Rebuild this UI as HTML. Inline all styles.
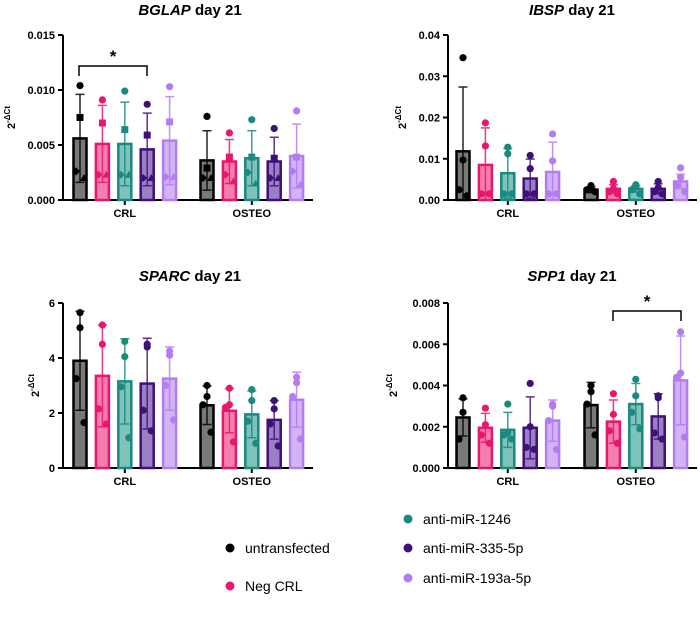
<!DOCTYPE html>
<html><head><meta charset="utf-8"><style>
body{margin:0;background:#fff;width:700px;height:612px;overflow:hidden}
svg{font-family:"Liberation Sans",Arial,sans-serif}
</style></head><body>
<svg id="s" width="700" height="612" viewBox="0 0 700 612"></svg>
<script>
const groupNames=["untransfected","Neg CRL","anti-miR-1246","anti-miR-335-5p","anti-miR-193a-5p"];
const categories=["CRL","OSTEO"];
const lineColors=["#000000","#e8166f","#1a8a80","#3f0f7a","#b57cf2"];
const fillColors=["#787878","#f47fae","#7ec2ba","#9a80c2","#d2b3f6"];
const bglapMeans=[[.0056,.0051,.0051,.0046,.0054],[.0036,.0035,.0038,.0035,.0040]];
const bglapSD=[[.0040,.0035,.0038,.0033,.0040],[.0027,.0020,.0025,.0022,.0029]];
const bglapPts=[[[.0104,.0075,.0026,.0020],[.0091,.0070,.0023,.0023],[.0099,.0064,.0023,.0023],[.0087,.0059,.0020,.0020],[.0103,.0071,.0021,.0021]],
[[.0076,.0029,.0020,.0020],[.0061,.0039,.0023,.0017],[.0073,.0039,.0025,.0015],[.0065,.0038,.0020,.0020],[.0081,.0039,.0026,.0014]]];
const ibspMeans=[[.0118,.0085,.0065,.0052,.0068],[.0025,.0027,.0027,.0027,.0045]];
const ibspSD=[[.0156,.0090,.0060,.0047,.0072],[.0007,.0010,.0008,.0012,.0017]];
const ibspPts=[[[.0345,.0097,.0025,.0010],[.0187,.0131,.0015,.0015],[.0128,.0112,.0015,.0015],[.0108,.0076,.0015,.0015],[.0160,.0095,.0015,.0015]],
[[.0035,.0030,.0025,.0020],[.0045,.0028,.0020,.0015],[.0037,.0032,.0025,.0015],[.0045,.0030,.0020,.0015],[.0078,.0055,.0035,.0020]]];
const sparcMeans=[[3.9,3.35,3.15,3.07,3.25],[2.28,2.08,1.95,1.75,2.48]];
const sparcSD=[[1.8,1.85,1.55,1.65,1.15],[0.7,0.8,0.85,0.7,1.0]];
const sparcPts=[[[5.65,5.1,3.25,1.65],[5.2,4.5,2.15,1.6],[4.6,4.05,2.95,1.1],[4.4,4.5,2.1,1.35],[4.25,4.1,3.0,1.75]],
[[3.0,2.6,2.3,1.3],[2.9,2.3,2.2,.95],[2.85,2.45,1.7,.9],[2.45,2.15,1.6,.8],[3.3,3.1,2.6,1.05]]];
const spp1Means=[[.00245,.00195,.00185,.00195,.0023],[.00305,.00225,.0031,.0025,.00425]];
const spp1SD=[[.0009,.0007,.00085,.0015,.001],[.0011,.00105,.001,.0011,.00215]];
const spp1Pts=[[[.0034,.0027,.0014],[.0029,.0021,.0016,.0012],[.0031,.0017,.0016,.0014],[.0041,.0020,.0010,.0009],[.0030,.0031,.0023,.0009]],
[[.0040,.0037,.0031,.0016],[.0036,.0026,.0018,.0012],[.0043,.0035,.0027,.0019],[.0035,.0034,.0017,.0014],[.0066,.0046,.0044,.0015]]];
const bglapTicks=["0.000","0.005","0.010","0.015"];
const ibspTicks=["0.00","0.01","0.02","0.03","0.04"];
const sparcTicks=["0","2","4","6"];
const spp1Ticks=["0.000","0.002","0.004","0.006","0.008"];

const S=document.getElementById('s');
const NS="http://www.w3.org/2000/svg";
function mk(tag,at,parent){const e=document.createElementNS(NS,tag);for(const k in at)e.setAttribute(k,at[k]);(parent||S).appendChild(e);return e;}
function txt(x,y,str,at,parent){const t=mk('text',Object.assign({x:x,y:y},at),parent);t.textContent=str;return t;}
const shapes=['circle','square','diamond','triangle'];
const jit=[0,0,-4,4];

function panel(o){
  const g=mk('g',{});
  
  
  const ymax=parseFloat(o.ticks[o.ticks.length-1]);
  const ys=v=>o.y0-(v/ymax)*(o.y0-o.ytop);
  // title
  const t=mk('text',{x:o.tx,y:o.ty,'text-anchor':'middle','font-size':15,'font-weight':'bold'},g);
  
  
  const ts=mk('tspan',{'font-style':'italic'},t);ts.textContent=o.name;
  const ts2=mk('tspan',{},t);ts2.textContent=' day 21';
  // y label
  const yl=mk('text',{transform:`translate(${o.ylx},${(o.y0+o.ytop)/2}) rotate(-90)`,'text-anchor':'middle','font-size':11,'font-weight':'bold'},g);
  
  
  const a=mk('tspan',{},yl);a.textContent='2';
  const b=mk('tspan',{dy:-5,'font-size':8},yl);b.textContent='-ΔCt';
  // axes
  const ya=mk('line',{x1:o.ax,x2:o.ax,y1:o.ytop,y2:o.y0,stroke:'#000','stroke-width':2},g);
  
  
  o.ticks.forEach(tk=>{const y=ys(parseFloat(tk));
    mk('line',{x1:o.ax-5,x2:o.ax,y1:y,y2:y,stroke:'#000','stroke-width':2},g);
    const tl=txt(o.ax-8,y+4,tk,{'text-anchor':'end','font-size':11,'font-weight':'bold'},g);
    
    
  });
  const xa=mk('line',{x1:o.ax,x2:o.xend,y1:o.y0,y2:o.y0,stroke:'#000','stroke-width':2},g);
  
  
  const bw=13,sp=22.4;
  categories.forEach((c,ci)=>{
    const start=o.cx[ci];
    const mid=start+2*sp;
    mk('line',{x1:mid,x2:mid,y1:o.y0,y2:o.y0+5,stroke:'#000','stroke-width':2},g);
    const cl=txt(mid,o.y0+17,c,{'text-anchor':'middle','font-size':11,'font-weight':'bold'},g);
    
    
    for(let k=0;k<5;k++){
      const x=start+k*sp,m=o.means[ci][k],sd=o.sd[ci][k];
      const r=mk('rect',{x:x-bw/2,y:ys(m),width:bw,height:o.y0-ys(m),fill:fillColors[k],stroke:lineColors[k],'stroke-width':2.5},g);
      
      
      const e=mk('path',{d:`M${x},${ys(m+sd)}V${ys(Math.max(0,m-sd))}M${x-4.5},${ys(m+sd)}h9M${x-4.5},${ys(Math.max(0,m-sd))}h9`,stroke:lineColors[k],'stroke-width':1.5,fill:'none',opacity:0.85},g);
      
      
      o.pts[ci][k].forEach((v,pi)=>{
        const px=x+jit[pi],py=ys(v);let p;
        const sh=o.shapes?shapes[pi]:'circle';
        if(sh==='circle')p=mk('circle',{cx:px,cy:py,r:3.6,fill:lineColors[k]},g);
        else if(sh==='square')p=mk('rect',{x:px-3.5,y:py-3.5,width:7,height:7,fill:lineColors[k]},g);
        else if(sh==='diamond')p=mk('path',{d:`M${px},${py-4}L${px+4},${py}L${px},${py+4}L${px-4},${py}Z`,fill:lineColors[k]},g);
        else p=mk('path',{d:`M${px},${py-4}L${px+4},${py+3}L${px-4},${py+3}Z`,fill:lineColors[k]},g);
        
        
      });
    }
  });
  if(o.sig){const s=o.sig;
    const br=mk('path',{d:`M${s.x1},${s.y+10}V${s.y}H${s.x2}V${s.y+10}`,stroke:'#000','stroke-width':1.5,fill:'none'},g);
    
    
    const st=txt((s.x1+s.x2)/2,s.y-4,'*',{'text-anchor':'middle','font-size':17,'font-weight':'bold'},g);
    
    
  }
}
panel({name:'BGLAP',ticks:bglapTicks,means:bglapMeans,sd:bglapSD,pts:bglapPts,shapes:true,ax:63,xend:313,y0:200,ytop:35,cx:[80,207],tx:190,ty:15,ylx:15,sig:{x1:79,x2:147,y:66}});
panel({name:'IBSP',ticks:ibspTicks,means:ibspMeans,sd:ibspSD,pts:ibspPts,ax:448,xend:697,y0:200,ytop:35,cx:[463,591],tx:572,ty:15,ylx:406});
panel({name:'SPARC',ticks:sparcTicks,means:sparcMeans,sd:sparcSD,pts:sparcPts,ax:63,xend:313,y0:468,ytop:303,cx:[80,207],tx:190,ty:281,ylx:39});
panel({name:'SPP1',ticks:spp1Ticks,means:spp1Means,sd:spp1SD,pts:spp1Pts,ax:448,xend:697,y0:468,ytop:303,cx:[463,591],tx:572,ty:281,ylx:397,sig:{x1:613,x2:681,y:311}});
// legend
const legPos=[[230,548],[230,586],[408,519],[408,548],[408,578]];
groupNames.forEach((n,i)=>{
  const lg=mk('g',{});
  
  
  mk('circle',{cx:legPos[i][0],cy:legPos[i][1],r:4.5,fill:lineColors[i]},lg);
  txt(legPos[i][0]+15,legPos[i][1]+5,n,{'font-size':14},lg);
});
</script>
</body></html>
